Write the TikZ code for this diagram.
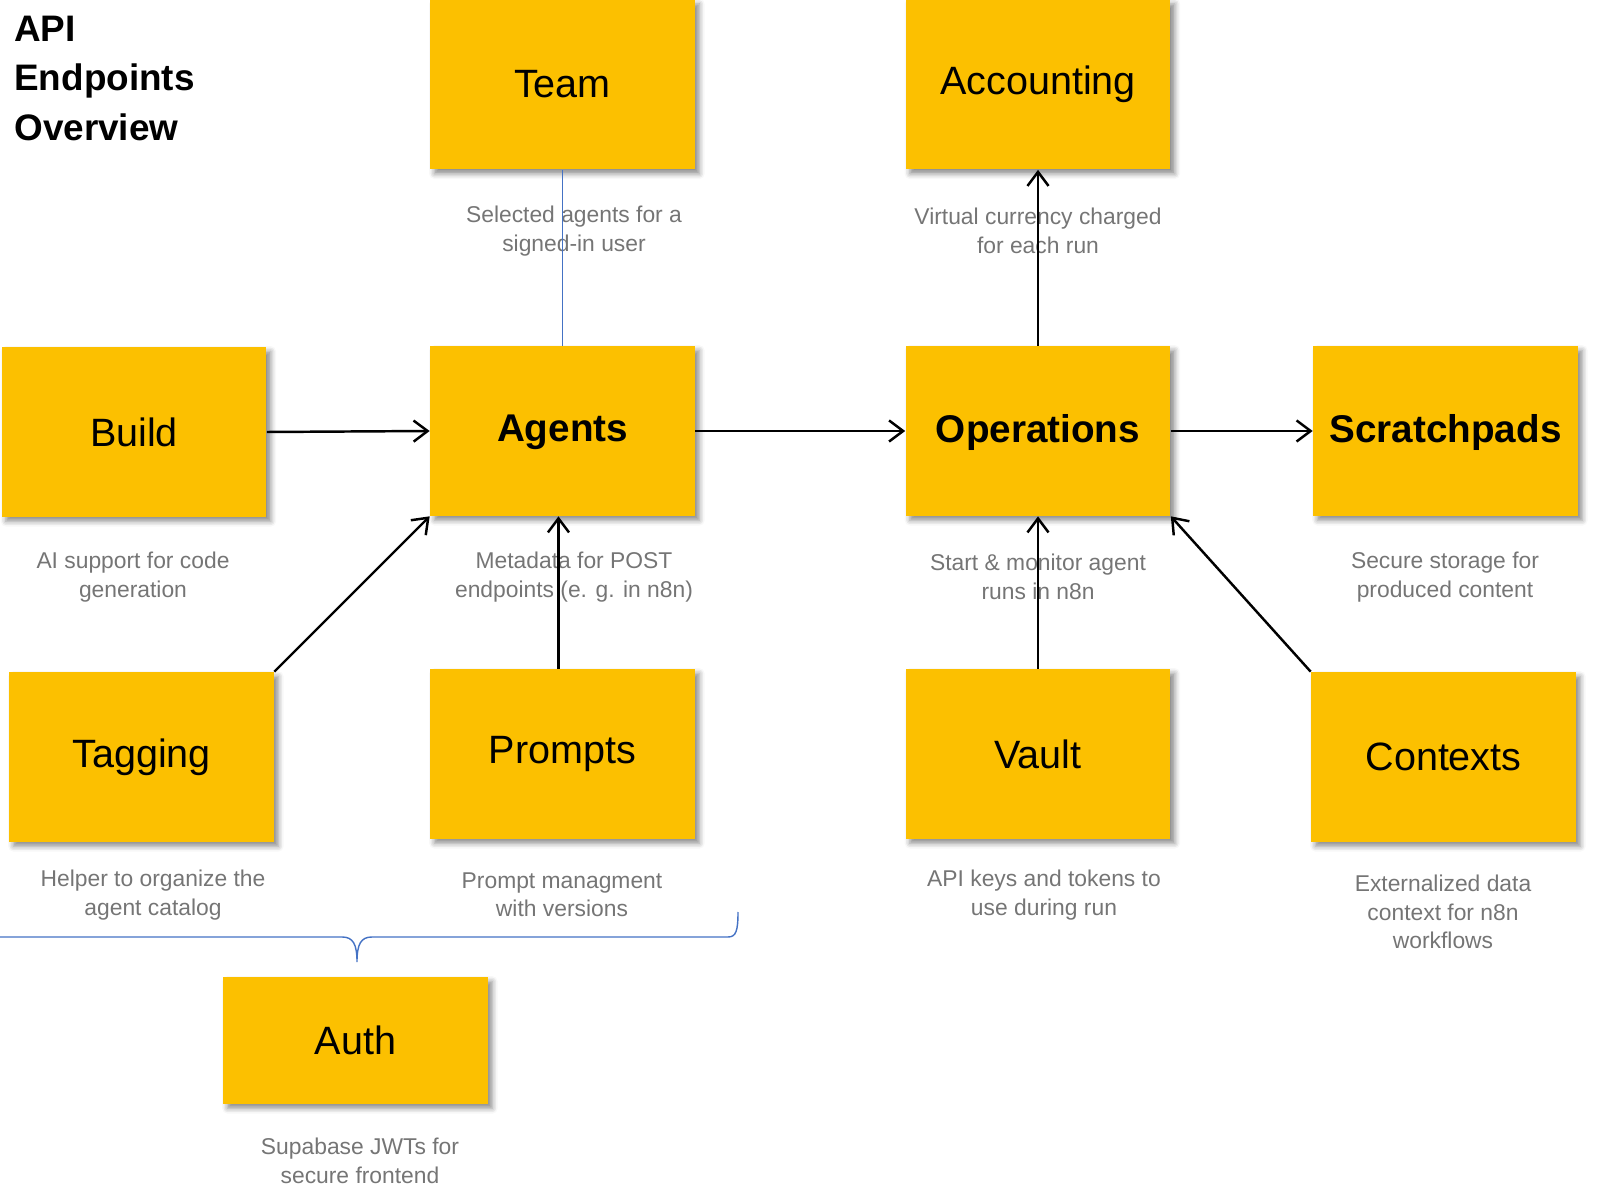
\documentclass[tikz,border=0pt]{standalone}
\usepackage{fontspec}
\setmainfont{Liberation Sans}
\usetikzlibrary{arrows.meta,shadows.blur}

\definecolor{boxyellow}{RGB}{252,192,0}
\definecolor{descgray}{RGB}{117,117,117}
\definecolor{linkblue}{RGB}{68,114,196}

\begin{document}
\begin{tikzpicture}[x=0.02cm, y=-0.02cm,
  box/.style={fill=boxyellow, minimum width=5.3cm, minimum height=3.4cm, inner sep=0pt,
    font=\fontsize{22.5}{27}\selectfont,
    blur shadow={shadow xshift=2.5pt, shadow yshift=-2.5pt, shadow blur radius=3pt, shadow opacity=45}},
  mainbox/.style={box, font=\bfseries\fontsize{22}{27}\selectfont, text depth=3pt},
  desc/.style={text=descgray, align=center, font=\fontsize{13}{16.2}\selectfont},
  link/.style={line width=1.4pt, -{Straight Barb[length=8pt, width=12pt, line width=1.4pt]}}]
\useasboundingbox (0,0) rectangle (1597,1192);

% title
\node[anchor=north west, align=left, inner sep=0pt, font=\bfseries\fontsize{21}{28}\selectfont] (title) at (14,16) {API\\Endpoints\\Overview};

% endpoint boxes
\node[box] (team) at (562.5,84.5) {Team};
\node[box] (acct) at (1038,84.5) {Accounting};
\node[box] (build) at (134,432) {Build};
\node[mainbox] (agents) at (562.5,431) {Agents};
\node[mainbox] (ops) at (1038,431) {Operations};
\node[mainbox] (scratch) at (1445.5,431) {Scratchpads};
\node[box] (tagging) at (141.5,757) {Tagging};
\node[box] (prompts) at (562.5,754) {Prompts};
\node[box] (vault) at (1038,754) {Vault};
\node[box] (contexts) at (1443.5,757) {Contexts};
\node[box, minimum height=2.54cm] (auth) at (355.5,1040.5) {Auth};

% descriptions
\node[desc] (team-d) at (574,231) {Selected agents for a\\signed-in user};
\node[desc] (acct-d) at (1038,231) {Virtual currency charged\\for each run};
\node[desc] (build-d) at (133,577) {AI support for code\\generation};
\node[desc] (agents-d) at (574,577) {Metadata for POST\\endpoints (e. g. in n8n)};
\node[desc] (ops-d) at (1038,577) {Start \& monitor agent\\runs in n8n};
\node[desc] (scratch-d) at (1445,577) {Secure storage for\\produced content};
\node[desc] (tagging-d) at (153,895) {Helper to organize the\\agent catalog};
\node[desc] (prompts-d) at (562,895) {Prompt managment\\with versions};
\node[desc] (vault-d) at (1044,895) {API keys and tokens to\\use during run};
\node[desc] (contexts-d) at (1443,912) {Externalized data\\context for n8n\\workflows};
\node[desc] (auth-d) at (360,1161) {Supabase JWTs for\\secure frontend};

% connectors
\draw[linkblue, line width=0.6pt] (team.south) -- (agents.north);
\draw[link] (build.east) -- (agents.west);
\draw[link] (agents.east) -- (ops.west);
\draw[link] (ops.east) -- (scratch.west);
\draw[link] (ops.north) -- (acct.south);
\draw[link] (tagging.north east) -- (agents.south west);
\draw[link] ([xshift=-2.3pt]prompts.north) -- ([xshift=-2.3pt]agents.south);
\draw[link] (vault.north) -- (ops.south);
\draw[link] (contexts.north west) -- (ops.south east);

% brace over the auth group
\draw[linkblue, line width=0.8pt] (-10,937) -- (342,937)
  .. controls (353,937) and (357,944) .. (357,962)
  .. controls (357,944) and (361,937) .. (372,937) -- (728,937)
  .. controls (736,937) and (738,931) .. (738,912);
\end{tikzpicture}
\end{document}
